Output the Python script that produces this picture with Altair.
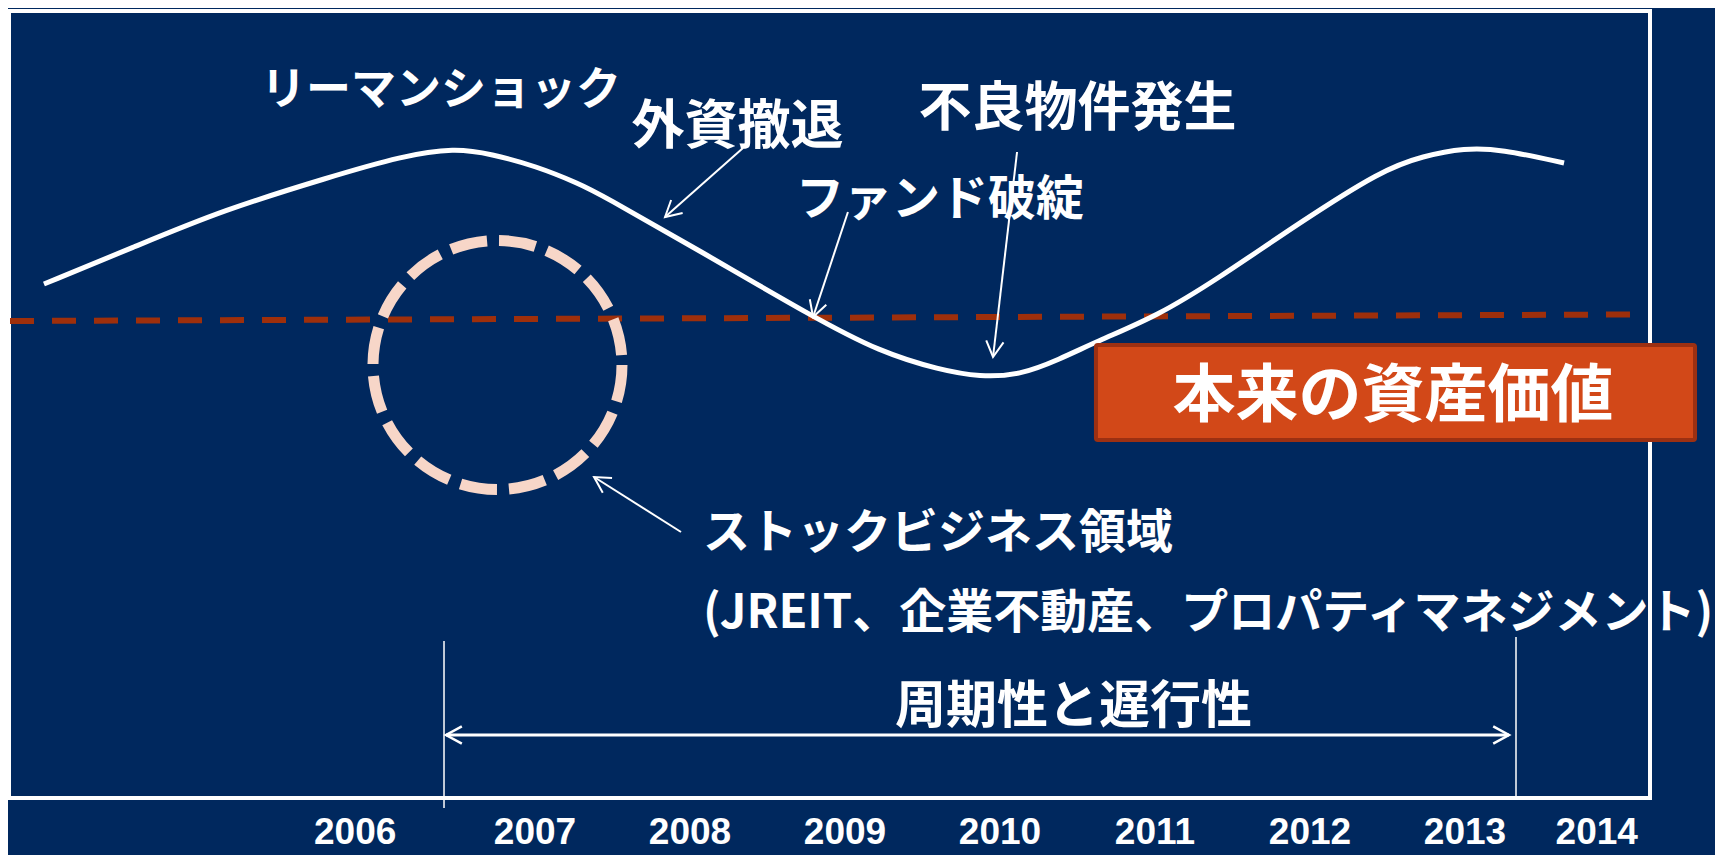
import math
import altair as alt
import pandas as pd

# ---------------- data ----------------
# market price cycle (x: year, y: price index)
curve_year = [2003.832, 2004.413, 2004.987, 2005.677, 2006.142, 2006.484, 2006.716,
              2007.006, 2007.290, 2007.419, 2008.065, 2008.794, 2009.226, 2009.613,
              2009.871, 2010.129, 2010.374, 2010.645, 2011.013, 2011.394, 2011.929,
              2012.465, 2012.729, 2013.000, 2013.226, 2013.639]
curve_value = [51.4, 55.1, 58.8, 62.1, 64.2, 65.0, 64.4,
               63.2, 61.4, 60.4, 54.7, 48.1, 44.6, 42.8,
               42.1, 42.3, 43.8, 45.8, 48.2, 51.8, 57.5,
               62.8, 64.2, 65.0, 64.9, 63.5]

# intrinsic asset value (dashed)
base_year = [2003.613, 2014.065]
base_value = [47.7, 48.35]

# stock-business region (circle)
stock_year = [2006.758]
stock_value = [43.3]

# event annotations
event_text = ["リーマンショック", "外資撤退", "不良物件発生", "ファンド破綻"]
event_year = [2006.394, 2008.306, 2010.500, 2009.613]
event_value = [70.7, 67.0, 68.85, 59.7]

# annotation arrows (from -> to)
arrow_from_year = [2008.342, 2009.019, 2010.110, 2007.942]
arrow_from_value = [65.0, 58.6, 64.6, 26.6]
arrow_to_year = [2007.839, 2008.794, 2009.955, 2007.381]
arrow_to_value = [58.1, 48.1, 44.1, 32.1]

# stock business text
stock_lines = ["ストックビジネス領域", "(JREIT、企業不動産、プロパティマネジメント)"]
stock_text_year = [2008.084, 2008.084]
stock_text_value = [26.4, 18.4]

# cycle / lag bracket
lag_start, lag_end = 2006.413, 2013.329
lag_line_top = [15.7, 16.1]
lag_line_bottom = [-1.0, 0.1]
lag_arrow_year = [2006.426, 2013.284]
lag_arrow_value = 6.3
lag_text = "周期性と遅行性"
lag_text_year, lag_text_value = 2010.474, 9.05

# intrinsic value box
box_year = [2010.619, 2014.484]
box_value = [35.8, 45.3]
box_text = "本来の資産価値"
box_text_year, box_text_value = 2012.535, 40.1

# year tick labels
year_labels = ["2006", "2007", "2008", "2009", "2010", "2011", "2012", "2013", "2014"]
year_label_pos = [2005.84, 2007, 2008, 2009, 2010, 2011, 2012, 2013, 2013.85]
year_label_value = -4.6

# ---------------- layout ----------------
BG = "#00285E"
W, H = 1641, 787
X_DOM = [2003.6065, 2014.1935]
Y_DOM = [0, 78.7]
PX_X = W / (X_DOM[1] - X_DOM[0])
PX_Y = H / (Y_DOM[1] - Y_DOM[0])
JP = "Noto Sans CJK JP"

xs = alt.Scale(domain=X_DOM, nice=False, zero=False)
ys = alt.Scale(domain=Y_DOM, nice=False, zero=False)


def X(f):
    return alt.X(f, type="quantitative", scale=xs, axis=None)


def Y(f):
    return alt.Y(f, type="quantitative", scale=ys, axis=None)


def head_angle(x0, y0, x1, y1):
    dx = (x1 - x0) * PX_X
    dy = -(y1 - y0) * PX_Y
    return math.degrees(math.atan2(dx, -dy)) % 360


CHEVRON = "M-0.55,1L0,0L0.55,1"

# frame
frame = alt.Chart(pd.DataFrame({"a": [0]})).mark_rect(
    fillOpacity=0, stroke="white", strokeWidth=4
).encode(x=alt.value(0), x2=alt.value(W), y=alt.value(0), y2=alt.value(H))

# dashed intrinsic value line
base_df = pd.DataFrame({"x": base_year, "y": base_value})
base = alt.Chart(base_df).mark_line(
    color="#9E2F0B", strokeWidth=6, strokeDash=[24, 18]
).encode(x=X("x"), y=Y("y"))

# price curve
curve_df = pd.DataFrame({"x": curve_year, "y": curve_value})
curve = alt.Chart(curve_df).mark_line(
    color="white", strokeWidth=5, interpolate="basis"
).encode(x=X("x"), y=Y("y"), order="x:Q")

# circle
circ_df = pd.DataFrame({"x": stock_year, "y": stock_value})
circle = alt.Chart(circ_df).mark_point(
    shape="circle", filled=False, size=62000, stroke="#F7D6C8", strokeWidth=11,
    strokeDash=[37, 12], opacity=1
).encode(x=X("x"), y=Y("y"))

# arrows
arr_df = pd.DataFrame({
    "x0": arrow_from_year, "y0": arrow_from_value,
    "x1": arrow_to_year, "y1": arrow_to_value,
})
arr_df["ang"] = [head_angle(a, b, c, d) for a, b, c, d in
                 zip(arr_df.x0, arr_df.y0, arr_df.x1, arr_df.y1)]
shafts = alt.Chart(arr_df).mark_rule(color="white", strokeWidth=2).encode(
    x=X("x0"), y=Y("y0"), x2="x1", y2="y1")
heads = alt.Chart(arr_df).mark_point(
    shape=CHEVRON, filled=False, size=1000, stroke="white", strokeWidth=2, opacity=1
).encode(x=X("x1"), y=Y("y1"), angle=alt.Angle("ang:Q", scale=None))

# lag bracket
lag_df = pd.DataFrame({"x": [lag_start, lag_end], "top": lag_line_top,
                       "bot": lag_line_bottom})
lag_lines = alt.Chart(lag_df).mark_rule(color="white", strokeWidth=1.5).encode(
    x=X("x"), y=Y("top"), y2="bot")
lag_arr_df = pd.DataFrame({"x0": [lag_arrow_year[0]], "x1": [lag_arrow_year[1]],
                           "y": [lag_arrow_value]})
lag_shaft = alt.Chart(lag_arr_df).mark_rule(color="white", strokeWidth=3).encode(
    x=X("x0"), x2="x1", y=Y("y"))
lag_heads_df = pd.DataFrame({"x": lag_arrow_year, "y": [lag_arrow_value] * 2,
                             "ang": [270.0, 90.0]})
lag_heads = alt.Chart(lag_heads_df).mark_point(
    shape=CHEVRON, filled=False, size=1000, stroke="white", strokeWidth=2.5, opacity=1
).encode(x=X("x"), y=Y("y"), angle=alt.Angle("ang:Q", scale=None))

# box
box_df = pd.DataFrame({"x0": [box_year[0]], "x1": [box_year[1]],
                       "y0": [box_value[0]], "y1": [box_value[1]]})
box = alt.Chart(box_df).mark_rect(
    fill="#D24818", stroke="#9C3012", strokeWidth=4, cornerRadius=2
).encode(x=X("x0"), x2="x1", y=Y("y0"), y2="y1")


def text_layer(txt, x, y, size, align="center"):
    df = pd.DataFrame({"t": [txt], "x": [x], "y": [y]})
    return alt.Chart(df).mark_text(
        font=JP, fontWeight="bold", fontSize=size, color="white",
        align=align, baseline="middle"
    ).encode(x=X("x"), y=Y("y"), text="t:N")


event_sizes = [45, 53, 53, 48]
events = [text_layer(t, x, y, s) for t, x, y, s in
          zip(event_text, event_year, event_value, event_sizes)]
stock_texts = [text_layer(stock_lines[0], stock_text_year[0], stock_text_value[0], 47, "left"),
               text_layer(stock_lines[1], stock_text_year[1], stock_text_value[1], 47, "left")]
lag_label = text_layer(lag_text, lag_text_year, lag_text_value, 51)
box_label = text_layer(box_text, box_text_year, box_text_value, 63)

yl_df = pd.DataFrame({"t": year_labels, "x": year_label_pos,
                      "y": [year_label_value] * len(year_labels)})
year_text = alt.Chart(yl_df).mark_text(
    font="Liberation Sans", fontWeight="bold", fontSize=37, color="white",
    align="center", baseline="alphabetic"
).encode(x=X("x"), y=Y("y"), text="t:N")

chart = alt.layer(
    frame, base, circle, curve, shafts, heads, lag_lines, lag_shaft, lag_heads,
    box, *events, *stock_texts, lag_label, box_label, year_text
).properties(
    width=W, height=H,
    padding={"left": 1, "top": 3, "right": 65, "bottom": 57},
    autosize=alt.AutoSizeParams(type="none"),
    background=BG,
).configure_view(stroke=None)

chart.save("out.html", embed_options={"renderer": "svg", "actions": False})
